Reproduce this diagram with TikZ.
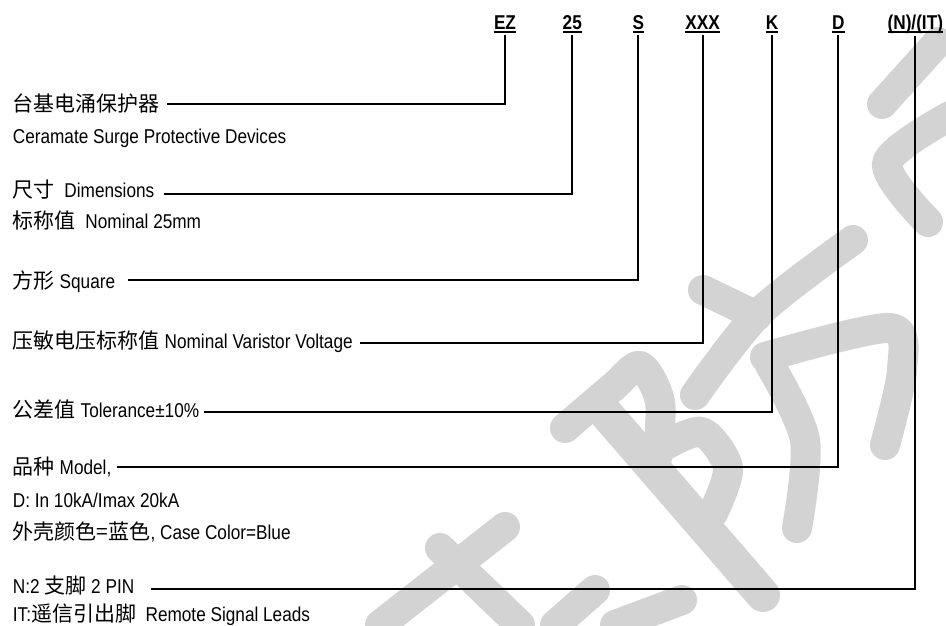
\documentclass[tikz,border=0pt]{standalone}
\usepackage{fontspec}
\setmainfont{Liberation Sans}[FakeStretch=0.86]
\newfontfamily\zhfont{Noto Sans CJK SC}[Scale=1.05]
\usepackage{xcolor}
\definecolor{WaterGray}{RGB}{211,211,211}
\newcommand{\TextFont}{\fontsize{20}{24}\selectfont}
\newcommand{\CodeFont}{\fontsize{20}{24}\selectfont\bfseries}
\newcommand{\LeftX}{12.7}
\newcommand{\CodeBase}{29.3}
\newcommand{\zh}[1]{{\zhfont #1}}
\newcommand{\CodeUl}[1]{%
  % underlined code letter
  \setbox0=\hbox{#1}\rlap{\vrule height -1.4pt depth 3.2pt width \wd0}\box0}
\newcommand{\LinkCode}[4]{%
  % #1 label node, #2 code node, #3 gap after text, #4 rise above baseline
  \draw[leader] ([xshift=#3pt,yshift=#4pt]#1.base east) -| (#2.south);
}

\begin{document}
\begin{tikzpicture}[
  x=1pt, y=-1pt,
  desc/.style={font=\TextFont, anchor=base west, inner sep=0pt},
  codeletter/.style={font=\CodeFont, anchor=base, inner xsep=0pt, inner ysep=2pt},
  leader/.style={draw=black, line width=1.8pt},
  wmstroke/.style={draw=WaterGray, line width=30pt, line cap=round, line join=round}
]
\useasboundingbox (0,0) rectangle (946,625);

% Watermark
\draw[wmstroke] (938,42) -- (882,104);
\draw[wmstroke] plot[smooth] coordinates {(950,116) (887,163) (928,222)};
\draw[wmstroke] (703,290) -- (757,316);
\draw[wmstroke] plot[smooth] coordinates {(853,240) (760,312) (695,395)};
\draw[wmstroke] plot[smooth] coordinates {(765,357) (890,328) (902,370) (885,445)};
\draw[wmstroke] plot[smooth] coordinates {(770,365) (805,440) (797,528)};
\draw[wmstroke] plot[smooth] coordinates {(565,428) (612,388) (640,366) (660,402) (657,458)};
\draw[wmstroke] plot[smooth] coordinates {(664,446) (702,432) (728,468) (713,513)};
\draw[wmstroke,line width=34pt] (603,410) -- (763,595);
\draw[wmstroke] (505,527) -- (380,625);
\draw[wmstroke] (440,548) -- (520,625);
\draw[wmstroke] (595,590) -- (555,625);
\draw[wmstroke] (682,600) -- (615,625);

% Code letters
\node[codeletter] (cEZ)  at (505,\CodeBase)   {\CodeUl{EZ}};
\node[codeletter] (c25)  at (572.3,\CodeBase) {\CodeUl{25}};
\node[codeletter] (cS)   at (638.3,\CodeBase) {\CodeUl{S}};
\node[codeletter] (cXXX) at (702.7,\CodeBase) {\CodeUl{XXX}};
\node[codeletter] (cK)   at (772,\CodeBase)   {\CodeUl{K}};
\node[codeletter] (cD)   at (838.3,\CodeBase) {\CodeUl{D}};
\node[codeletter] (cNIT) at (915.3,\CodeBase) {\CodeUl{(N)/(IT)}};

% Descriptions
\node[desc] (surge)     at (\LeftX,111)   {\zh{台基电涌保护器}};
\node[desc] (surgeen)   at (\LeftX,143)   {Ceramate Surge Protective Devices};
\node[desc] (dim)       at (\LeftX,197)   {\zh{尺寸}~~Dimensions};
\node[desc] (dimnom)    at (\LeftX,228)   {\zh{标称值}~~Nominal 25mm};
\node[desc] (square)    at (\LeftX,288)   {\zh{方形} Square};
\node[desc] (varistor)  at (\LeftX,348)   {\zh{压敏电压标称值} Nominal Varistor Voltage};
\node[desc] (tol)       at (\LeftX,417)   {\zh{公差值} Tolerance±10\%};
\node[desc] (model)     at (\LeftX,474)   {\zh{品种} Model,};
\node[desc] (modeld)    at (\LeftX,507.5) {D: In 10kA/Imax 20kA};
\node[desc] (casecolor) at (\LeftX,539)   {\zh{外壳颜色=蓝色}, Case Color=Blue};
\node[desc] (pin)       at (\LeftX,593)   {N:2 \zh{支脚} 2 PIN};
\node[desc] (remote)    at (\LeftX,621)   {IT:\zh{遥信引出脚}~~Remote Signal Leads};

% Leaders
\LinkCode{surge}{cEZ}{6.7}{7}
\LinkCode{dim}{c25}{9.7}{2.7}
\LinkCode{square}{cS}{13}{8}
\LinkCode{varistor}{cXXX}{7.3}{4.7}
\LinkCode{tol}{cK}{5}{5.3}
\LinkCode{model}{cD}{5}{7.3}
\LinkCode{pin}{cNIT}{16.7}{4}

\end{tikzpicture}
\end{document}
